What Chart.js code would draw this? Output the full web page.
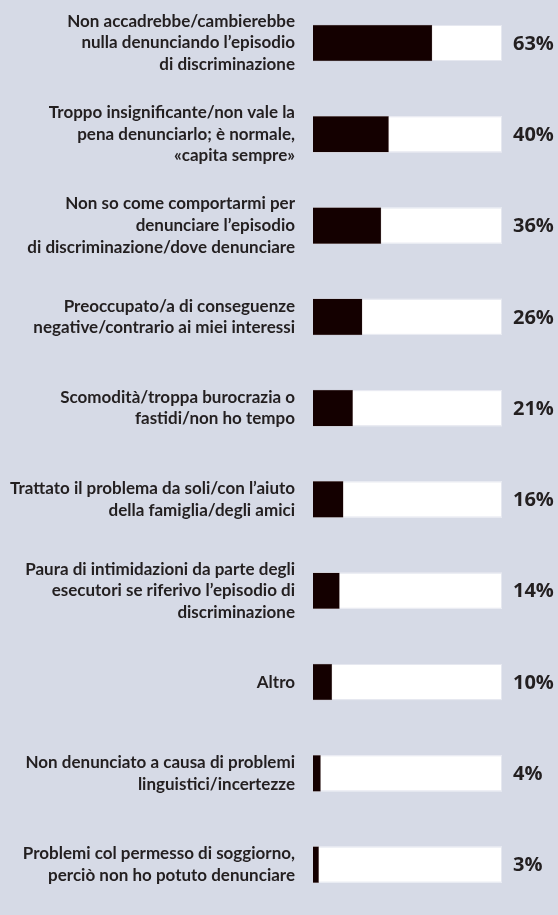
<!DOCTYPE html>
<html>
<head>
<meta charset="utf-8">
<script src="https://cdn.jsdelivr.net/npm/chart.js@4"></script>
<style>
    html, body { margin: 0; padding: 0; background: #d6dae6; }
    #wrap { width: 558px; height: 915px; position: relative; }
</style>
</head>
<body>
<div id="wrap"><canvas id="barChart"></canvas></div>
<script>
// Reasons for not reporting (labels split the way the original wraps them)
const reasons = [
    ["Non accadrebbe/cambierebbe", "nulla denunciando l’episodio", "di discriminazione"],
    ["Troppo insignificante/non vale la", "pena denunciarlo; è normale,", "«capita sempre»"],
    ["Non so come comportarmi per", "denunciare l’episodio", "di discriminazione/dove denunciare"],
    ["Preoccupato/a di conseguenze", "negative/contrario ai miei interessi"],
    ["Scomodità/troppa burocrazia o", "fastidi/non ho tempo"],
    ["Trattato il problema da soli/con l’aiuto", "della famiglia/degli amici"],
    ["Paura di intimidazioni da parte degli", "esecutori se riferivo l’episodio di", "discriminazione"],
    ["Altro"],
    ["Non denunciato a causa di problemi", "linguistici/incertezze"],
    ["Problemi col permesso di soggiorno,", "perciò non ho potuto denunciare"]
];
const shares = [63, 40, 36, 26, 21, 16, 14, 10, 4, 3];
const scaleMax = 100;

const colors = {
    bar: '#140000',
    track: '#ffffff',
    text: '#231f20'
};

// white track behind each bar, up to 100%
const trackPlugin = {
    id: 'track',
    beforeDatasetsDraw(chart) {
        const ctx = chart.ctx;
        const x = chart.scales.x;
        const meta = chart.getDatasetMeta(0);
        ctx.save();
        meta.data.forEach(function (bar) {
            const h = bar.height;
            const x0 = x.getPixelForValue(0), x1 = x.getPixelForValue(scaleMax);
            ctx.fillStyle = colors.track;
            ctx.fillRect(x0, bar.y - h / 2, x1 - x0, h);
            ctx.strokeStyle = '#e6e8f0';
            ctx.lineWidth = 1;
            ctx.strokeRect(x0 + 0.5, bar.y - h / 2 + 0.5, x1 - x0 - 1, h - 1);
        });
        ctx.restore();
    }
};

// percentage next to each track
const valueLabels = {
    id: 'valueLabels',
    afterDatasetsDraw(chart) {
        const ctx = chart.ctx;
        const meta = chart.getDatasetMeta(0);
        ctx.save();
        ctx.font = 'bold 20px "Open Sans"';
        ctx.fillStyle = colors.text;
        ctx.textAlign = 'left';
        ctx.textBaseline = 'middle';
        meta.data.forEach(function (bar, i) {
            ctx.fillText(shares[i] + '%', chart.chartArea.right + 11, bar.y + 1);
        });
        ctx.restore();
    }
};

new Chart(document.getElementById('barChart'), {
    type: 'bar',
    data: {
        labels: reasons,
        datasets: [{
            data: shares,
            backgroundColor: colors.bar,
            borderColor: 'rgba(120, 100, 100, 0.6)',
            borderWidth: 0.5,
            barThickness: 36,
            clip: false
        }]
    },
    options: {
        indexAxis: 'y',
        responsive: true,
        maintainAspectRatio: false,
        animation: false,
        layout: {
            padding: { top: 43, bottom: 21, left: 0, right: 56 }
        },
        plugins: {
            legend: { display: false },
            tooltip: { enabled: false }
        },
        scales: {
            x: {
                min: 0,
                max: scaleMax,
                display: false
            },
            y: {
                offset: false,
                grid: { display: false, drawTicks: false },
                border: { display: false },
                afterFit: function (scale) { scale.width = 313; },
                ticks: {
                    autoSkip: false,
                    padding: 18,
                    color: colors.text,
                    font: {
                        family: 'Lato',
                        size: 17,
                        weight: 'bold',
                        lineHeight: 1.27
                    }
                }
            }
        }
    },
    plugins: [trackPlugin, valueLabels]
});
</script>
</body>
</html>
